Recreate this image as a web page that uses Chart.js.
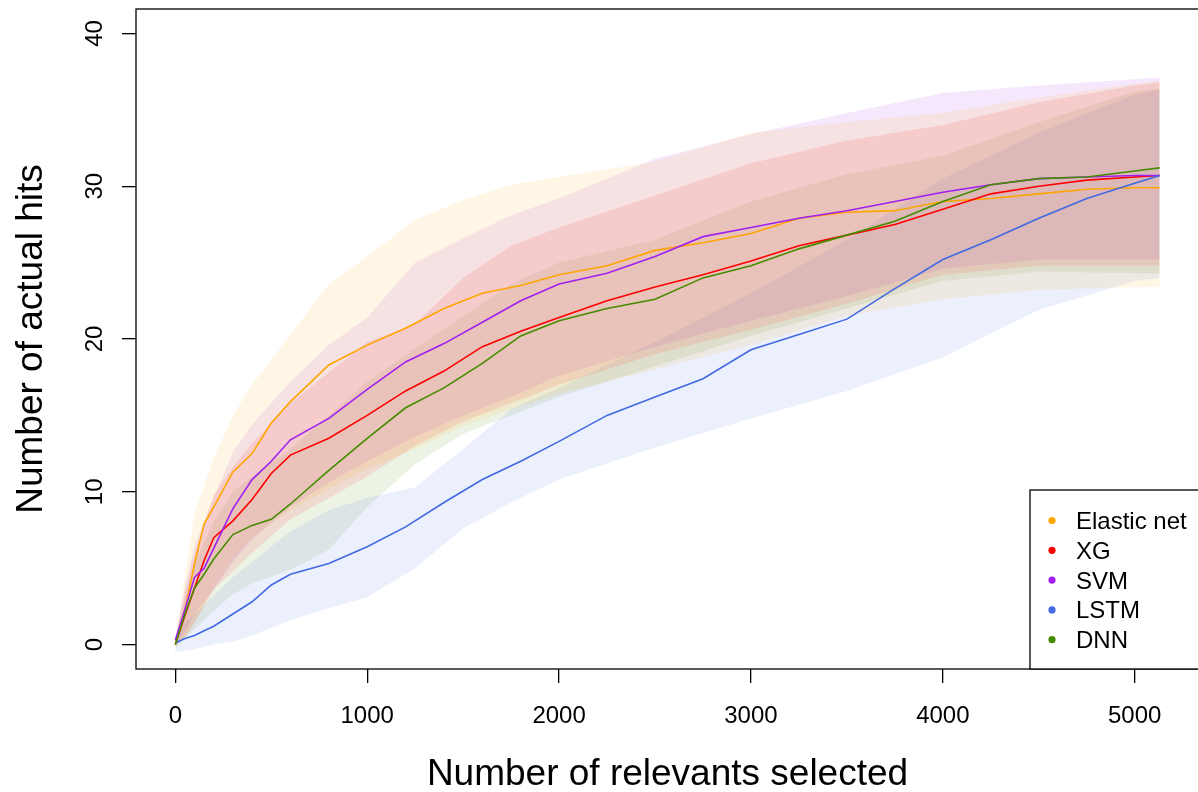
<!DOCTYPE html>
<html>
<head>
<meta charset="utf-8">
<script src="https://cdn.jsdelivr.net/npm/chart.js@4"></script>
<style>
html, body { margin: 0; padding: 0; background: #fff; overflow: hidden; }
canvas { display: block; }
</style>
</head>
<body>
<canvas id="hitsChart" width="1200" height="792"></canvas>
<script>
var xTicks = [0, 1000, 2000, 3000, 4000, 5000];
var yTicks = [0, 10, 20, 30, 40];
var xTitle = 'Number of relevants selected';
var yTitle = 'Number of actual hits';

var models = ['Elastic net', 'XG', 'SVM', 'LSTM', 'DNN'];
var colors = ['#FFA500', '#FF0000', '#A020F0', '#4169E1', '#458B00'];

// mean curves
var meanX = [0, 50, 100, 150, 200, 300, 400, 500, 600, 800, 1000, 1200, 1400, 1600, 1800, 2000, 2250, 2500, 2750, 3000, 3250, 3500, 3750, 4000, 4250, 4500, 4750, 5000, 5130];
var elasticMean = [0, 2.2, 5.3, 7.9, 9.0, 11.3, 12.5, 14.5, 15.9, 18.3, 19.6, 20.7, 22.0, 23.0, 23.5, 24.2, 24.8, 25.8, 26.3, 26.9, 27.9, 28.3, 28.4, 29.0, 29.2, 29.5, 29.8, 29.9, 29.9];
var xgMean = [0, 1.9, 3.7, 5.5, 7.0, 8.1, 9.5, 11.2, 12.4, 13.5, 15.0, 16.6, 17.9, 19.5, 20.5, 21.4, 22.5, 23.4, 24.2, 25.1, 26.1, 26.8, 27.5, 28.5, 29.5, 30.0, 30.4, 30.6, 30.7];
var svmMean = [0.3, 2.3, 4.4, 5.0, 6.3, 8.9, 10.8, 12.0, 13.4, 14.8, 16.7, 18.5, 19.7, 21.1, 22.5, 23.6, 24.3, 25.4, 26.7, 27.3, 27.9, 28.4, 29.0, 29.6, 30.1, 30.5, 30.6, 30.7, 30.7];
var lstmMean = [0.1, 0.4, 0.6, 0.9, 1.2, 2.0, 2.8, 3.9, 4.6, 5.3, 6.4, 7.7, 9.3, 10.8, 12.0, 13.3, 15.0, 16.2, 17.4, 19.3, 20.3, 21.3, 23.3, 25.2, 26.5, 27.9, 29.2, 30.2, 30.7];
var dnnMean = [0, 2.0, 3.7, 4.6, 5.6, 7.2, 7.8, 8.2, 9.2, 11.4, 13.5, 15.5, 16.8, 18.4, 20.2, 21.2, 22.0, 22.6, 24.0, 24.8, 25.9, 26.8, 27.7, 29.0, 30.1, 30.5, 30.6, 31.0, 31.2];

// shaded ranges
var bandX = [0, 50, 100, 200, 300, 400, 600, 800, 1000, 1250, 1500, 1750, 2000, 2500, 3000, 3500, 4000, 4500, 5000, 5130];
var elasticLow = [0, 0.4, 1.5, 3.8, 5.6, 7.0, 8.8, 10.2, 11.5, 12.8, 14.3, 15.4, 16.4, 18.0, 19.6, 21.5, 22.6, 23.2, 23.4, 23.4];
var elasticHigh = [0.3, 4.5, 8.6, 12.2, 15.0, 17.0, 20.3, 23.6, 25.4, 27.8, 29.1, 30.1, 30.6, 31.6, 33.5, 34.2, 34.8, 35.8, 36.7, 36.9];
var xgLow = [0, 0.5, 1.4, 3.6, 4.8, 6.0, 8.2, 9.6, 11.0, 13.0, 14.6, 15.8, 17.0, 19.0, 20.6, 22.3, 24.2, 24.8, 24.8, 24.8];
var xgHigh = [0.3, 3.4, 6.0, 9.8, 11.6, 13.2, 15.8, 17.8, 19.8, 21.0, 24.0, 26.1, 27.3, 29.4, 31.5, 33.0, 34.0, 35.5, 36.6, 36.8];
var svmLow = [0, 0.8, 2.0, 3.6, 5.4, 6.9, 9.0, 10.6, 12.0, 13.6, 15.0, 16.2, 17.6, 19.5, 21.2, 22.8, 24.6, 25.2, 25.2, 25.2];
var svmHigh = [0.5, 3.8, 6.5, 9.6, 12.6, 14.4, 17.2, 19.6, 21.4, 25.0, 26.6, 28.1, 29.2, 31.8, 33.4, 34.8, 36.1, 36.6, 37.0, 37.1];
var lstmLow = [-0.5, -0.4, -0.3, 0, 0.2, 0.6, 1.6, 2.4, 3.1, 5.0, 7.6, 9.3, 10.8, 12.9, 14.8, 16.6, 18.8, 21.9, 23.8, 24.0];
var lstmHigh = [0.3, 1.4, 2.0, 3.2, 4.4, 5.4, 7.4, 8.8, 9.6, 10.3, 12.8, 15.4, 16.8, 19.8, 23.0, 26.5, 30.5, 33.5, 36.0, 36.3];
var dnnLow = [-0.3, 0.4, 1.0, 2.2, 3.3, 4.0, 4.9, 6.2, 9.0, 11.8, 13.8, 15.0, 16.2, 18.2, 20.2, 22.0, 23.8, 24.4, 24.3, 24.3];
var dnnHigh = [0.3, 3.0, 5.4, 8.0, 10.0, 11.0, 12.8, 15.0, 17.2, 19.4, 21.5, 23.6, 25.0, 26.5, 29.0, 30.8, 32.0, 34.2, 36.2, 36.4];

var means = [elasticMean, xgMean, svmMean, lstmMean, dnnMean];
var lows = [elasticLow, xgLow, svmLow, lstmLow, dnnLow];
var highs = [elasticHigh, xgHigh, svmHigh, lstmHigh, dnnHigh];

var FONT = '"Liberation Sans", Arial, sans-serif';

function toPoints(xs, ys) {
    return xs.map(function (x, i) { return { x: x, y: ys[i] }; });
}

function withAlpha(hex, a) {
    var r = parseInt(hex.substr(1, 2), 16);
    var g = parseInt(hex.substr(3, 2), 16);
    var b = parseInt(hex.substr(5, 2), 16);
    return 'rgba(' + r + ',' + g + ',' + b + ',' + a + ')';
}

var datasets = [];
for (var i = 0; i < models.length; i++) {
    datasets.push({
        label: models[i] + ' low',
        data: toPoints(bandX, lows[i]),
        borderColor: 'rgba(0,0,0,0)',
        borderWidth: 0,
        pointRadius: 0,
        fill: false
    });
    datasets.push({
        label: models[i] + ' high',
        data: toPoints(bandX, highs[i]),
        borderColor: 'rgba(0,0,0,0)',
        borderWidth: 0,
        pointRadius: 0,
        backgroundColor: withAlpha(colors[i], 0.1),
        fill: '-1'
    });
}
for (var j = models.length - 1; j >= 0; j--) {
    datasets.push({
        label: models[j],
        data: toPoints(meanX, means[j]),
        borderColor: colors[j],
        borderWidth: 1.6,
        pointRadius: 0,
        fill: false
    });
}

var framePlugin = {
    id: 'framePlugin',
    afterDraw: function (chart) {
        var ctx = chart.ctx;
        var a = chart.chartArea;
        var xs = chart.scales.x;
        var ys = chart.scales.y;
        ctx.save();
        ctx.strokeStyle = '#000';
        ctx.lineWidth = 1.3;
        ctx.strokeRect(a.left, a.top, a.right - a.left, a.bottom - a.top);

        ctx.fillStyle = '#000';
        ctx.textAlign = 'center';
        ctx.textBaseline = 'alphabetic';
        ctx.font = '24px ' + FONT;
        xTicks.forEach(function (v) {
            ctx.fillText(String(v), xs.getPixelForValue(v), a.bottom + 54);
        });
        yTicks.forEach(function (v) {
            ctx.save();
            ctx.translate(a.left - 34, ys.getPixelForValue(v));
            ctx.rotate(-Math.PI / 2);
            ctx.fillText(String(v), 0, 0);
            ctx.restore();
        });

        ctx.font = '37px ' + FONT;
        ctx.fillText(xTitle, (a.left + a.right) / 2, 785);
        ctx.save();
        ctx.translate(42, (a.top + a.bottom) / 2);
        ctx.rotate(-Math.PI / 2);
        ctx.fillText(yTitle, 0, 0);
        ctx.restore();

        // legend, bottom right like R
        var lx = 1030, ly = 490;
        ctx.fillStyle = '#fff';
        ctx.fillRect(lx, ly, a.right - lx, a.bottom - ly);
        ctx.strokeRect(lx, ly, a.right - lx, a.bottom - ly);
        ctx.font = '24px ' + FONT;
        ctx.textAlign = 'left';
        for (var k = 0; k < models.length; k++) {
            var base = 529 + k * 29.8;
            ctx.fillStyle = colors[k];
            ctx.beginPath();
            ctx.arc(1052, base - 8.5, 3.6, 0, Math.PI * 2);
            ctx.fill();
            ctx.fillStyle = '#000';
            ctx.fillText(models[k], 1076, base);
        }
        ctx.restore();
    }
};

var tickGrid = {
    drawOnChartArea: false,
    drawTicks: true,
    tickLength: 14,
    color: '#000',
    lineWidth: 1.3
};

new Chart(document.getElementById('hitsChart').getContext('2d'), {
    type: 'line',
    data: { datasets: datasets },
    options: {
        responsive: false,
        animation: false,
        layout: { padding: { top: 9, right: 1, left: 0, bottom: 0 } },
        elements: { line: { tension: 0 }, point: { radius: 0 } },
        plugins: {
            legend: { display: false },
            tooltip: { enabled: false },
            filler: { drawTime: 'beforeDatasetsDraw' }
        },
        scales: {
            x: {
                type: 'linear',
                min: -205,
                max: 5335,
                afterBuildTicks: function (s) { s.ticks = xTicks.map(function (v) { return { value: v }; }); },
                afterFit: function (s) { s.height = 123; },
                ticks: { display: false },
                grid: tickGrid,
                border: { display: false }
            },
            y: {
                type: 'linear',
                min: -1.6,
                max: 41.6,
                afterBuildTicks: function (s) { s.ticks = yTicks.map(function (v) { return { value: v }; }); },
                afterFit: function (s) { s.width = 136; },
                ticks: { display: false },
                grid: tickGrid,
                border: { display: false }
            }
        }
    },
    plugins: [framePlugin]
});
</script>
</body>
</html>
